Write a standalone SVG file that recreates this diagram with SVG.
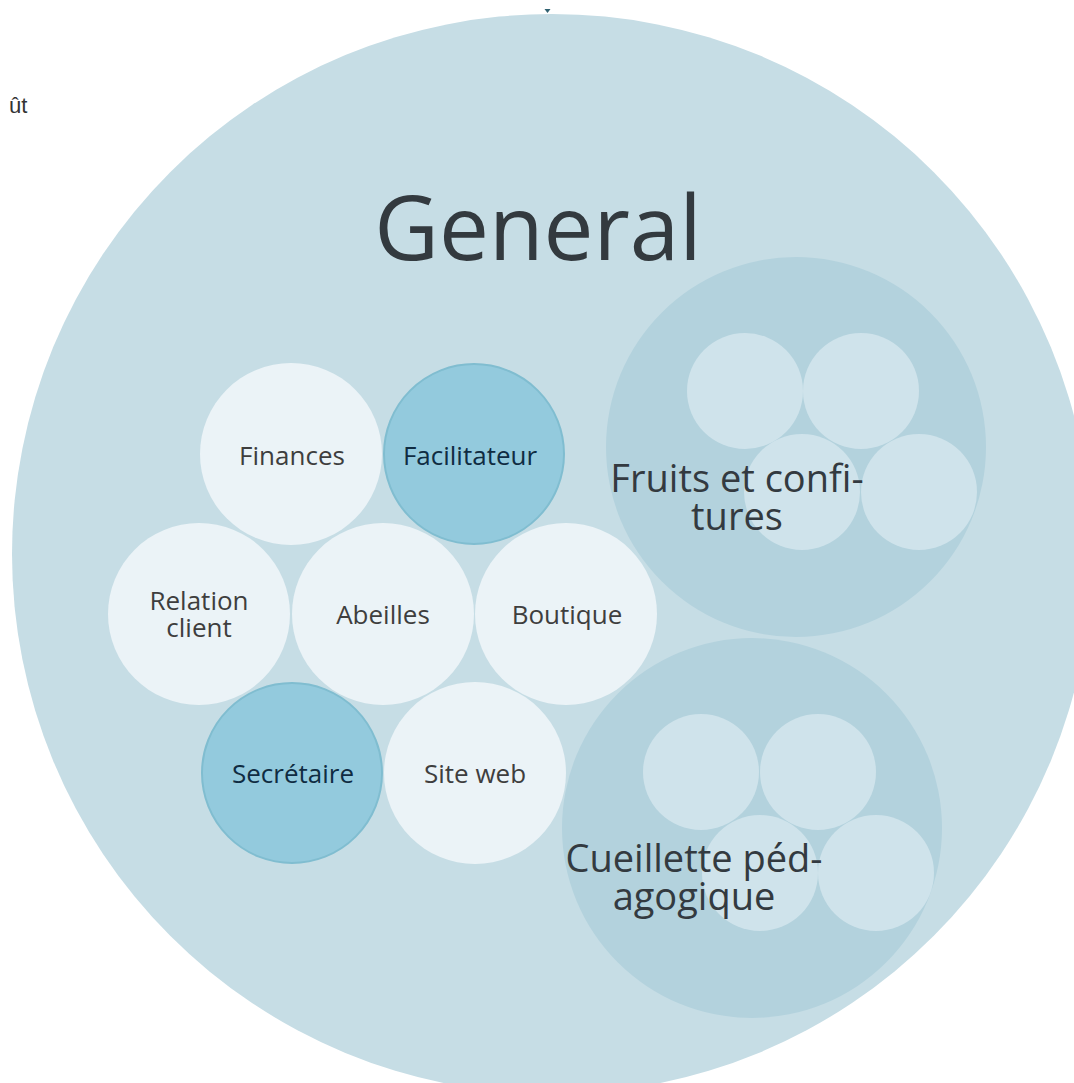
<svg xmlns="http://www.w3.org/2000/svg" width="1074" height="1083" viewBox="0 0 1074 1083">
<style>
.lbl{font-family:"Open Sans","Noto Sans","DejaVu Sans",sans-serif;text-anchor:middle;}
.node{fill:#ebf3f7;}
.hl{fill:#93cadd;stroke:#80bdd0;stroke-width:2;}
.sub{fill:#cfe3eb;}
.grp{fill:#b3d2dd;}
.t{font-size:26px;fill:#3e3e3e;}
.th{font-size:26px;fill:#0f2c42;}
.tg{font-size:38px;fill:#333a40;}
</style>
<rect x="0" y="0" width="1074" height="1083" fill="#ffffff"/>
<text x="9" y="113" font-family="Liberation Sans, Arial, sans-serif" font-size="22" fill="#333">ût</text>
<path d="M544.5,9 L550.5,9 L547.5,13 Z" fill="#2f6070"/>
<g id="general">
  <circle cx="552" cy="554" r="540" fill="#c6dde5"/>
  <text class="lbl" x="538" y="260" font-size="89" fill="#333a3f">General</text>
</g>
<g id="fruits">
  <circle class="grp" cx="796" cy="447" r="190"/>
  <circle class="sub" cx="745" cy="391" r="58"/>
  <circle class="sub" cx="861" cy="391" r="58"/>
  <circle class="sub" cx="802" cy="492" r="58"/>
  <circle class="sub" cx="919" cy="492" r="58"/>
  <text class="lbl tg" x="737" y="492">Fruits et confi-</text>
  <text class="lbl tg" x="737" y="530">tures</text>
</g>
<g id="cueillette">
  <circle class="grp" cx="752" cy="828" r="190"/>
  <circle class="sub" cx="701" cy="772" r="58"/>
  <circle class="sub" cx="818" cy="772" r="58"/>
  <circle class="sub" cx="760" cy="873" r="58"/>
  <circle class="sub" cx="876" cy="873" r="58"/>
  <text class="lbl tg" x="694" y="872">Cueillette péd-</text>
  <text class="lbl tg" x="694" y="910">agogique</text>
</g>
<g id="finances">
  <circle class="node" cx="291" cy="454" r="91"/>
  <text class="lbl t" x="292" y="465">Finances</text>
</g>
<g id="facilitateur">
  <circle class="hl" cx="474" cy="454" r="90"/>
  <text class="lbl th" x="470" y="465">Facilitateur</text>
</g>
<g id="relation-client">
  <circle class="node" cx="199" cy="614" r="91"/>
  <text class="lbl t" x="199" y="610">Relation</text>
  <text class="lbl t" x="199" y="637">client</text>
</g>
<g id="abeilles">
  <circle class="node" cx="383" cy="614" r="91"/>
  <text class="lbl t" x="383" y="624">Abeilles</text>
</g>
<g id="boutique">
  <circle class="node" cx="566" cy="614" r="91"/>
  <text class="lbl t" x="567" y="624">Boutique</text>
</g>
<g id="secretaire">
  <circle class="hl" cx="292" cy="773" r="90"/>
  <text class="lbl th" x="293" y="783">Secrétaire</text>
</g>
<g id="site-web">
  <circle class="node" cx="475" cy="773" r="91"/>
  <text class="lbl t" x="475" y="783">Site web</text>
</g>
</svg>
